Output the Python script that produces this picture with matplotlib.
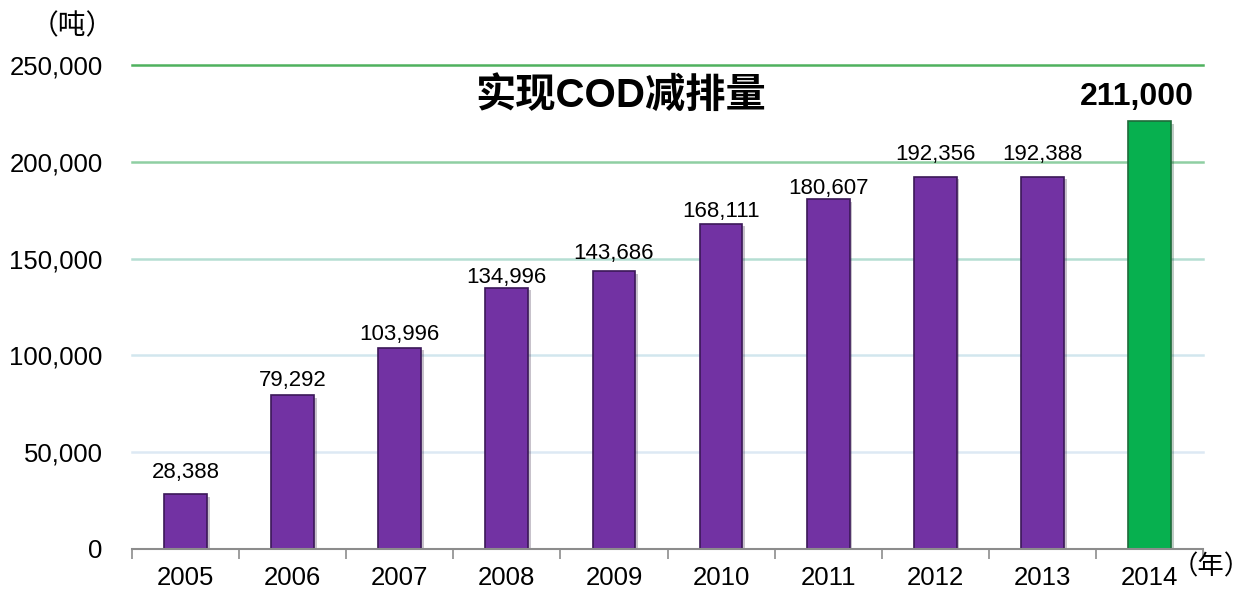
import matplotlib
matplotlib.use("Agg")
import matplotlib.pyplot as plt
import matplotlib.patheffects as pe
from matplotlib.ticker import FixedLocator, FuncFormatter

plt.rcParams['font.family'] = ['Liberation Sans', 'Noto Sans CJK SC', 'DejaVu Sans']

years = ['2005', '2006', '2007', '2008', '2009', '2010', '2011', '2012', '2013', '2014']
# bar heights as drawn in the picture (2014 bar is drawn taller than its label)
heights = [28388, 79292, 103996, 134996, 143686, 168111, 180607, 192356, 192388, 221000]
labels = ['28,388', '79,292', '103,996', '134,996', '143,686',
          '168,111', '180,607', '192,356', '192,388', '211,000']
y_ticks = [0, 50000, 100000, 150000, 200000, 250000]

title = '实现COD减排量'
unit_y = '（吨）'
unit_x = '（年）'

purple = '#7232a3'
green = '#07b04f'
bar_colors = [purple] * 9 + [green]
edge_colors = ['#3b1858'] * 9 + ['#1f6b3a']
grid_colors = ['#dde9f4', '#d2e7ee', '#b5ded3', '#8fcfa2', '#4fb15e']
# label gap above each bar, in pixels
label_gap = [22, 15, 13, 10, 17, 12, 11, 22, 22, 24]

fig = plt.figure(figsize=(12.55, 5.9), dpi=100)
ax = fig.add_axes([132 / 1255, 1 - 549 / 590, 1071 / 1255, 484 / 590])

x = list(range(len(years)))
bars = ax.bar(x, heights, width=0.4, color=bar_colors, edgecolor=edge_colors,
              linewidth=1.2, zorder=3)
for b in bars:
    b.set_path_effects([pe.SimplePatchShadow(offset=(2, -2), alpha=0.25), pe.Normal()])

for yv, c in zip(y_ticks[1:], grid_colors):
    ax.axhline(yv, color=c, linewidth=1.8, zorder=1, clip_on=False)

ax.set_xlim(-0.5, len(years) - 0.5)
ax.set_ylim(0, 250000)

for s in ['top', 'right', 'left']:
    ax.spines[s].set_visible(False)
ax.spines['bottom'].set_color('#8c8c8c')
ax.spines['bottom'].set_linewidth(1.5)
ax.spines['bottom'].set_zorder(4)

ax.set_yticks(y_ticks)
ax.yaxis.set_major_formatter(FuncFormatter(lambda v, p: f'{int(v):,}'))
ax.tick_params(axis='y', length=0, pad=21, labelsize=18.5)

ax.set_xticks(x)
ax.set_xticklabels(years)
ax.tick_params(axis='x', which='major', length=0, pad=12, labelsize=18.5)
ax.xaxis.set_minor_locator(FixedLocator([i - 0.5 for i in range(len(years) + 1)]))
ax.tick_params(axis='x', which='minor', length=7, width=1.2, color='#8c8c8c', direction='out')

for i, (h, lab, g) in enumerate(zip(heights, labels, label_gap)):
    if i == len(years) - 1:
        ax.annotate(lab, (i, h), xytext=(-9, g * 0.72), textcoords='offset points',
                    ha='center', va='center', fontsize=23, fontweight='bold')
    else:
        ax.annotate(lab, (i, h), xytext=(0, g * 0.72), textcoords='offset points',
                    ha='center', va='center', fontsize=16)

fig.text(621 / 1255, 1 - 95 / 590, title, ha='center', va='center',
         fontsize=29, fontweight='bold')
fig.text(72 / 1255, 1 - 27 / 590, unit_y, ha='center', va='center', fontsize=20)
fig.text(1251 / 1255, 1 - 567 / 590, unit_x, ha='right', va='center', fontsize=19)

fig.savefig('out.png', dpi=100)
